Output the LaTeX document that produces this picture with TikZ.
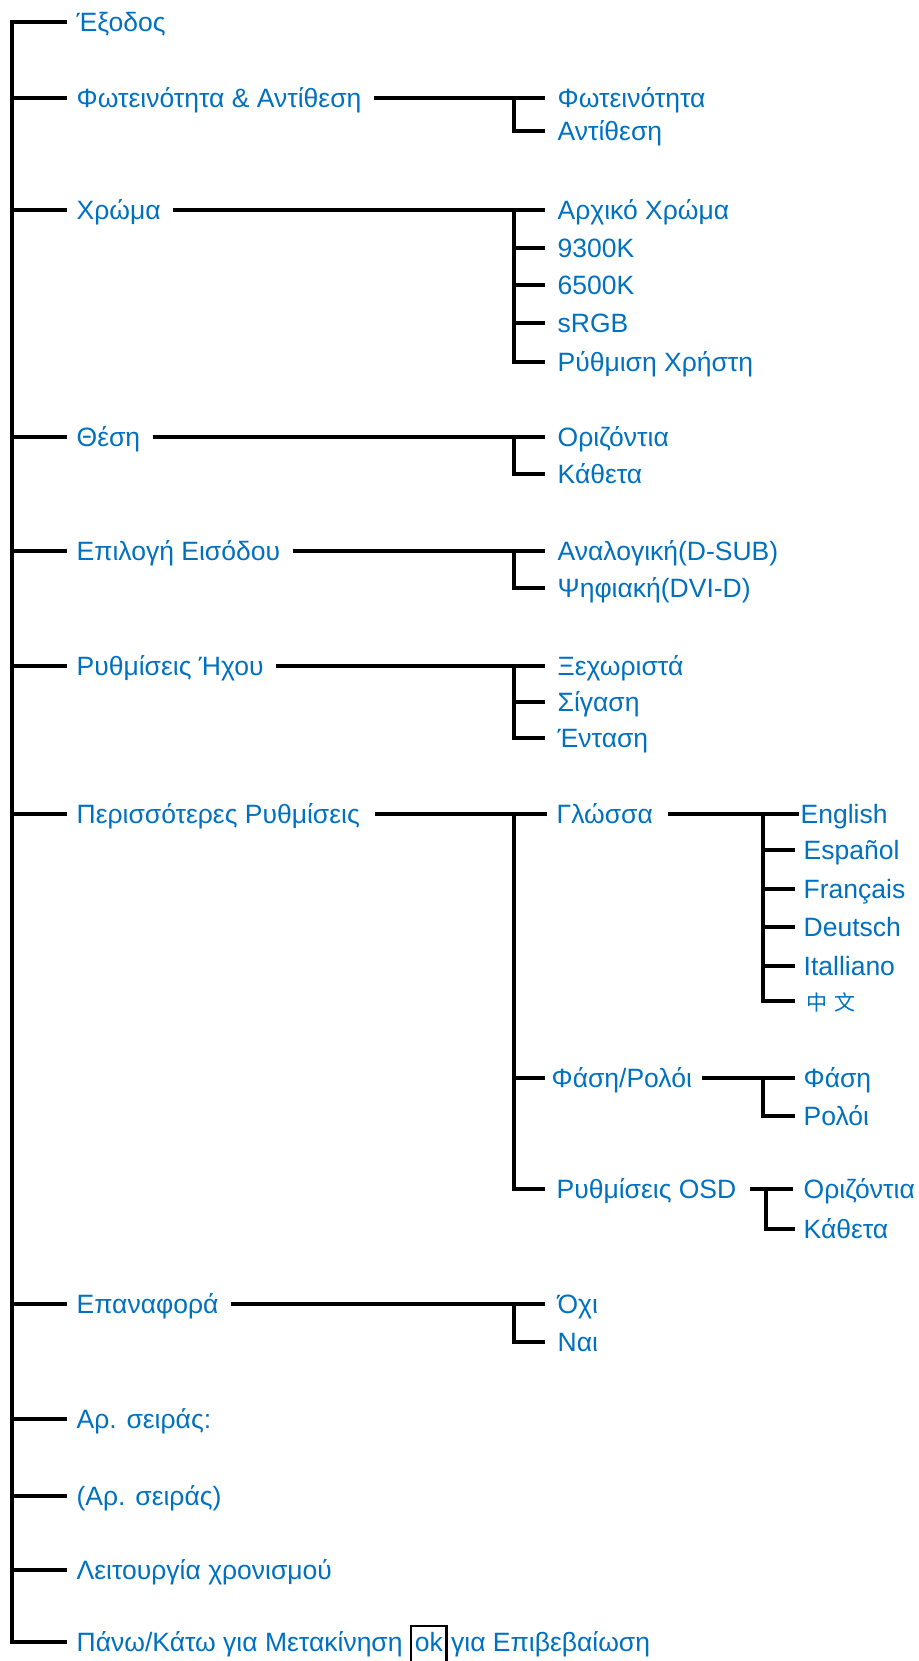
\documentclass[tikz,border=0pt]{standalone}
\usepackage{fontspec}
\setmainfont{Liberation Sans}
\newfontfamily\cjk{Noto Sans CJK SC}
\definecolor{lblc}{RGB}{0,112,192}
\begin{document}
\begin{tikzpicture}[x=1pt,y=-1pt,line width=3.3pt,
  lbl/.style={anchor=west,text=lblc,inner xsep=0pt,inner ysep=0pt,text height=19pt,text depth=0pt,font=\fontsize{26.5}{30}\selectfont},
  conn/.style={draw=black,line width=3.3pt,line cap=butt}]
\useasboundingbox (0,0) rectangle (918,1661);
\clip (0,0) rectangle (918,1661);
\coordinate (T) at (12,22);
% main column
\node[lbl] (m1) at (75,22) {Έξοδος};
\node[lbl] (m2) at (75,98) {Φωτεινότητα \& Αντίθεση};
\node[lbl] (m3) at (75,210) {Χρώμα};
\node[lbl] (m4) at (75,437) {Θέση};
\node[lbl] (m5) at (75,551) {Επιλογή Εισόδου};
\node[lbl] (m6) at (75,666) {Ρυθμίσεις Ήχου};
\node[lbl] (m7) at (75,814) {Περισσότερες Ρυθμίσεις};
\node[lbl] (m8) at (75,1304) {Επαναφορά};
\node[lbl] (m9) at (75,1419) {Αρ. σειράς:};
\node[lbl] (m10) at (75,1496) {(Αρ. σειράς)};
\node[lbl] (m11) at (75,1570) {Λειτουργία χρονισμού};
\node[lbl] (m12) at (75,1642) {Πάνω/Κάτω για Μετακίνηση};
\node[lbl] (ok) at ([xshift=9pt]m12.east) {ok};
\node[lbl] (m12b) at ([xshift=5pt]ok.east) {για Επιβεβαίωση};
\draw[line width=2.2pt] ([xshift=-2pt,yshift=5pt]ok.north west) rectangle ([xshift=2pt,yshift=-20pt]ok.south east);
% level 1
\node[lbl] (s2a) at (556,98) {Φωτεινότητα};
\node[lbl] (s2b) at (556,131) {Αντίθεση};
\node[lbl] (s3a) at (556,210) {Αρχικό Χρώμα};
\node[lbl] (s3b) at (556,248) {9300K};
\node[lbl] (s3c) at (556,285) {6500K};
\node[lbl] (s3d) at (556,323) {sRGB};
\node[lbl] (s3e) at (556,362) {Ρύθμιση Χρήστη};
\node[lbl] (s4a) at (556,437) {Οριζόντια};
\node[lbl] (s4b) at (556,474) {Κάθετα};
\node[lbl] (s5a) at (556,551) {Αναλογική(D-SUB)};
\node[lbl] (s5b) at (556,588) {Ψηφιακή(DVI-D)};
\node[lbl] (s6a) at (556,666) {Ξεχωριστά};
\node[lbl] (s6b) at (556,702) {Σίγαση};
\node[lbl] (s6c) at (556,738) {Ένταση};
\node[lbl] (s7a) at (555,814) {Γλώσσα};
\node[lbl] (s7b) at (550,1078) {Φάση/Ρολόι};
\node[lbl] (s7c) at (555,1189) {Ρυθμίσεις OSD};
\node[lbl] (s8a) at (556,1304) {Όχι};
\node[lbl] (s8b) at (556,1342) {Ναι};
% level 2
\node[lbl] (l1) at (799,814) {English};
\node[lbl] (l2) at (802,850) {Español};
\node[lbl] (l3) at (802,889) {Français};
\node[lbl] (l4) at (802,927) {Deutsch};
\node[lbl] (l5) at (802,966) {Italliano};
\node[lbl,font=\cjk\fontsize{21}{24}\selectfont] (l6) at (805,1001) {中\hspace{7pt}文};
\node[lbl] (p1) at (802,1078) {Φάση};
\node[lbl] (p2) at (802,1116) {Ρολόι};
\node[lbl] (o1) at (802,1189) {Οριζόντια};
\node[lbl] (o2) at (802,1229) {Κάθετα};
% trunk
\draw[conn] ([xshift=-8pt]m1.west) -- (T |- m1.west) -- (T |- m12.west) -- ([xshift=-8pt]m12.west);
\foreach \n in {m2,m3,m4,m5,m6,m7,m8,m9,m10,m11}
  \draw[conn] (T |- \n.west) -- ([xshift=-8pt]\n.west);
% level-1 brackets
\coordinate (B1) at (514,0);
\foreach \p/\f/\l/\mid in {m2/s2a/s2b/{},m3/s3a/s3e/{s3b,s3c,s3d},m4/s4a/s4b/{},m5/s5a/s5b/{},m6/s6a/s6c/{s6b},m8/s8a/s8b/{}}{
  \draw[conn] ([xshift=11pt]\p.east) -- ([xshift=-11pt]\f.west);
  \draw[conn] (B1 |- \f.west) -- (B1 |- \l.west) -- ([xshift=-11pt]\l.west);
  \foreach \c in \mid { \draw[conn] (B1 |- \c.west) -- ([xshift=-11pt]\c.west); }
}
% Περισσότερες Ρυθμίσεις
\draw[conn] ([xshift=14pt]m7.east) -- (B1 |- m7.west);
\draw[conn] (B1 |- m7.west) -- (B1 |- s7c.west) -- ([xshift=-10pt]s7c.west);
\draw[conn] (B1 |- s7a.west) -- ([xshift=-8pt]s7a.west);
\draw[conn] (B1 |- s7b.west) -- ([xshift=-5pt]s7b.west);
% Γλώσσα
\coordinate (B2) at (763,0);
\draw[conn] ([xshift=14pt]s7a.east) -- (s7a.east -| l1.west);
\draw[conn] (B2 |- l1.west) -- (B2 |- l6.west) -- ([xshift=-10pt]l6.west);
\foreach \c in {l2,l3,l4,l5}
  \draw[conn] (B2 |- \c.west) -- ([xshift=-7pt]\c.west);
% Φάση/Ρολόι
\draw[conn] ([xshift=8pt]s7b.east) -- ([xshift=-7pt]p1.west);
\draw[conn] (B2 |- p1.west) -- (B2 |- p2.west) -- ([xshift=-7pt]p2.west);
% Ρυθμίσεις OSD
\coordinate (B3) at (766,0);
\draw[conn] ([xshift=12pt]s7c.east) -- ([xshift=-9pt]o1.west);
\draw[conn] (B3 |- o1.west) -- (B3 |- o2.west) -- ([xshift=-7pt]o2.west);
\end{tikzpicture}
\end{document}
